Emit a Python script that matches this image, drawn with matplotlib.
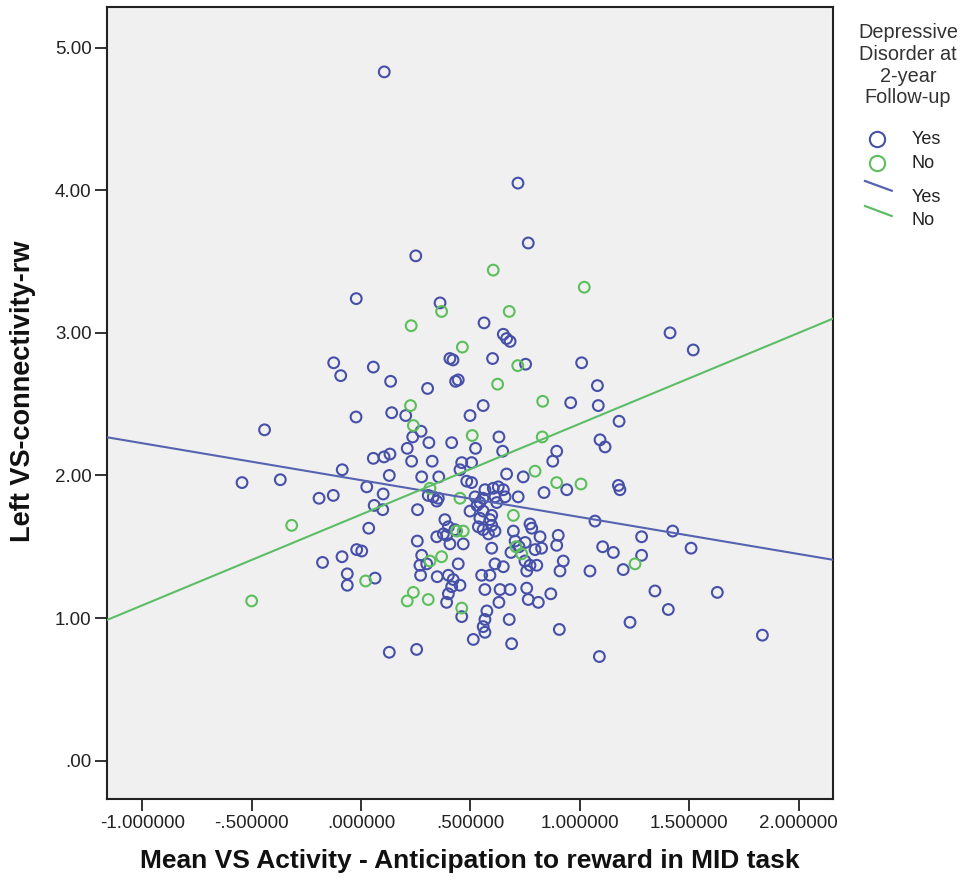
import matplotlib
matplotlib.use('Agg')
import matplotlib.pyplot as plt
from matplotlib.lines import Line2D
import numpy as np

plt.rcParams['font.family'] = ['Liberation Sans', 'DejaVu Sans']

# ---------------- data ----------------
yes_x = [0.106, 0.717, 0.764, 0.250, -0.022, 0.361, 0.562, 0.650, 0.665, 0.681,
         1.412, 1.518, 0.406, 0.420, -0.125, -0.093, 0.056, 0.601, 0.752, 1.008,
         0.135, 0.304, 0.432, 0.444, 1.080, -0.023, 0.140, 0.204, 0.498, 0.558,
         0.958, 1.084, 1.179, 0.274, 0.236, -0.441, 0.211, 0.310, 0.414, 0.630,
         0.523, 0.647, 1.092, 1.115, 0.894, 0.876, 0.231, 0.325, 0.056, 0.105,
         0.132, -0.086, 0.129, 0.277, 0.355, 0.460, 0.505, 0.483, 0.505, 0.665,
         0.741, 0.940, 0.836, 1.176, 1.183, -0.544, -0.369, -0.192, -0.127, 0.026,
         0.101, 0.060, 0.099, 0.307, 0.330, 0.353, 0.346, 0.258, 0.521, 0.543,
         0.530, 0.557, 0.566, 0.604, 0.627, 0.650, 0.612, 0.658, 0.718, 0.620,
         0.498, 0.558, 0.597, 1.069, 1.424, 1.282, 1.508, 1.104, 1.153, 1.282,
         1.198, 1.046, 0.924, 0.909, 0.901, 0.894, 0.818, 0.825, 0.795, 0.772,
         0.780, 0.696, 0.704, 0.750, 0.685, 0.749, 0.757, 0.772, 0.803, 0.597,
         0.612, 0.650, 0.551, 0.589, 0.566, 0.635, 0.681, 0.757, 0.764, 0.810,
         0.867, 0.630, 0.575, 0.566, 0.558, 0.566, 0.513, 0.688, 0.677, 0.906,
         1.089, 1.229, 1.343, 1.404, 1.628, 1.834, 0.254, 0.129, 0.257, 0.346,
         0.383, 0.399, 0.376, 0.429, 0.391, 0.467, 0.406, 0.277, 0.269, 0.272,
         0.300, 0.444, 0.348, 0.399, 0.421, 0.414, 0.452, 0.399, 0.391, 0.460,
         -0.176, -0.087, -0.020, 0.003, -0.063, -0.063, 0.064, 0.035, 0.536, 0.558,
         0.597, 0.612, 0.582, 0.543, 0.589, 0.452, 0.722]
yes_y = [4.83, 4.05, 3.63, 3.54, 3.24, 3.21, 3.07, 2.99, 2.96, 2.94,
         3.00, 2.88, 2.82, 2.81, 2.79, 2.70, 2.76, 2.82, 2.78, 2.79,
         2.66, 2.61, 2.66, 2.67, 2.63, 2.41, 2.44, 2.42, 2.42, 2.49,
         2.51, 2.49, 2.38, 2.31, 2.27, 2.32, 2.19, 2.23, 2.23, 2.27,
         2.19, 2.17, 2.25, 2.20, 2.17, 2.10, 2.10, 2.10, 2.12, 2.13,
         2.15, 2.04, 2.00, 1.99, 1.99, 2.09, 2.09, 1.96, 1.95, 2.01,
         1.99, 1.90, 1.88, 1.93, 1.90, 1.95, 1.97, 1.84, 1.86, 1.92,
         1.87, 1.79, 1.76, 1.86, 1.85, 1.84, 1.82, 1.76, 1.85, 1.81,
         1.79, 1.84, 1.90, 1.91, 1.92, 1.90, 1.85, 1.85, 1.85, 1.81,
         1.75, 1.75, 1.72, 1.68, 1.61, 1.57, 1.49, 1.50, 1.46, 1.44,
         1.34, 1.33, 1.40, 1.33, 1.58, 1.51, 1.57, 1.49, 1.48, 1.66,
         1.63, 1.61, 1.54, 1.53, 1.46, 1.40, 1.33, 1.37, 1.37, 1.49,
         1.38, 1.36, 1.30, 1.30, 1.20, 1.20, 1.20, 1.21, 1.13, 1.11,
         1.17, 1.11, 1.05, 0.99, 0.94, 0.90, 0.85, 0.82, 0.99, 0.92,
         0.73, 0.97, 1.19, 1.06, 1.18, 0.88, 0.78, 0.76, 1.54, 1.57,
         1.69, 1.64, 1.59, 1.62, 1.58, 1.52, 1.52, 1.44, 1.37, 1.30,
         1.38, 1.38, 1.29, 1.30, 1.27, 1.22, 1.23, 1.17, 1.11, 1.01,
         1.39, 1.43, 1.48, 1.47, 1.31, 1.23, 1.28, 1.63, 1.64, 1.62,
         1.65, 1.61, 1.59, 1.70, 1.69, 2.04, 1.50]

no_x = [0.604, 1.020, 0.368, 0.677, 0.229, 0.463, 0.716, 0.624, 0.830, 0.226,
        0.239, 0.508, 0.828, 0.315, 0.452, 0.795, 0.894, 1.005, 0.696, -0.317,
        -0.500, 0.021, 0.368, 0.315, 0.437, 0.467, 0.239, 0.211, 0.307, 0.460,
        1.252, 0.708, 0.734]
no_y = [3.44, 3.32, 3.15, 3.15, 3.05, 2.90, 2.77, 2.64, 2.52, 2.49,
        2.35, 2.28, 2.27, 1.91, 1.84, 2.03, 1.95, 1.94, 1.72, 1.65,
        1.12, 1.26, 1.43, 1.40, 1.61, 1.61, 1.18, 1.12, 1.13, 1.07,
        1.38, 1.50, 1.45]

# linear fit lines: (intercept, slope)
fit_yes = (1.967, -0.259)
fit_no = (1.726, 0.637)

x_ticks = [-1.0, -0.5, 0.0, 0.5, 1.0, 1.5, 2.0]
x_tick_labels = ['-1.000000', '-.500000', '.000000', '.500000',
                 '1.000000', '1.500000', '2.000000']
y_ticks = [0, 1, 2, 3, 4, 5]
y_tick_labels = ['.00', '1.00', '2.00', '3.00', '4.00', '5.00']
x_range = (-1.161, 2.158)
y_range = (-0.271, 5.285)

x_title = 'Mean VS Activity - Anticipation to reward in MID task'
y_title = 'Left VS-connectivity-rw'
legend_title = ['Depressive', 'Disorder at', '2-year', 'Follow-up']
group_names = ['Yes', 'No']

# ---------------- style ----------------
W, H = 967, 886
blue_pt = '#4650a8'
green_pt = '#5cbf5c'
blue_ln = '#5563b0'
green_ln = '#5cbd66'

fig = plt.figure(figsize=(W / 100, H / 100), dpi=100)
fig.patch.set_facecolor('white')
ax = fig.add_axes([107 / W, 1 - 799.3 / H, (833.3 - 107) / W, (799.3 - 7) / H])
ax.set_facecolor('#f0f0f0')

ax.scatter(yes_x, yes_y, s=60, facecolors='none', edgecolors=blue_pt,
           linewidths=1.5, zorder=2)
ax.scatter(no_x, no_y, s=60, facecolors='none', edgecolors=green_pt,
           linewidths=1.5, zorder=2)

xs = np.array(x_range)
ax.plot(xs, fit_yes[0] + fit_yes[1] * xs, color=blue_ln, lw=1.5, zorder=3)
ax.plot(xs, fit_no[0] + fit_no[1] * xs, color=green_ln, lw=1.5, zorder=3)

ax.set_xlim(*x_range)
ax.set_ylim(*y_range)
ax.set_xticks(x_ticks)
ax.set_xticklabels(x_tick_labels)
ax.set_yticks(y_ticks)
ax.set_yticklabels(y_tick_labels)

for sp in ax.spines.values():
    sp.set_color('#222222')
    sp.set_linewidth(1.5)

ax.tick_params(axis='both', direction='out', length=8.6, width=1.3,
               color='#222222', labelcolor='#222222', labelsize=13.5)
ax.tick_params(axis='x', pad=3)
ax.tick_params(axis='y', pad=2.4)

ax.set_xlabel(x_title, fontsize=19, fontweight='bold', color='#111111')
ax.xaxis.set_label_coords((470 - 107) / (833.3 - 107), -(861 - 799.3) / (799.3 - 7))
ax.xaxis.label.set_va('center')
ax.set_ylabel(y_title, fontsize=19.5, fontweight='bold', color='#111111')
ax.yaxis.set_label_coords((23 - 107) / (833.3 - 107), (799.3 - 391) / (799.3 - 7))
ax.yaxis.label.set_va('center')
ax.yaxis.label.set_ha('center')

# ---------------- legend (drawn in figure pixel space) ----------------
def fx(px):
    return px / W

def fy(py):
    return 1 - py / H

title_rows = [33, 54.5, 76, 97.5]
for txt, yy in zip(legend_title, title_rows):
    fig.text(fx(908), fy(yy), txt, ha='center', va='center',
             fontsize=14.3, color='#333333')

fig.add_artist(Line2D([fx(876.7)], [fy(139.3)], marker='o', ms=11,
                      mfc='none', mec=blue_pt, mew=1.5, ls='none',
                      transform=fig.transFigure))
fig.add_artist(Line2D([fx(876.7)], [fy(163.3)], marker='o', ms=11,
                      mfc='none', mec=green_pt, mew=1.5, ls='none',
                      transform=fig.transFigure))
fig.add_artist(Line2D([fx(865), fx(891.7)], [fy(181), fy(190.7)],
                      color=blue_ln, lw=1.6, transform=fig.transFigure))
fig.add_artist(Line2D([fx(865), fx(891.7)], [fy(206), fy(216)],
                      color=green_ln, lw=1.6, transform=fig.transFigure))

entry_rows = [139.3, 163.3, 197.3, 220.7]
entry_names = group_names + group_names
for txt, yy in zip(entry_names, entry_rows):
    fig.text(fx(911.5), fy(yy), txt, ha='left', va='center',
             fontsize=13, color='#222222')

fig.savefig('out.png', dpi=100)
